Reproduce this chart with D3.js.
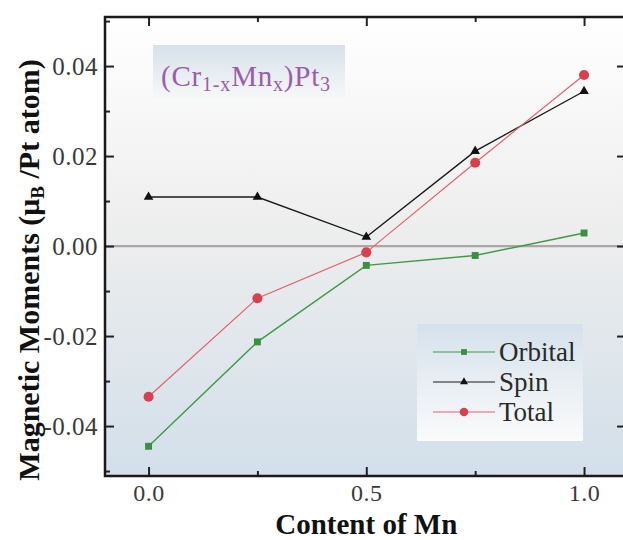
<!DOCTYPE html>
<html>
<head>
<meta charset="utf-8">
<script src="https://cdn.jsdelivr.net/npm/d3@7"></script>
</head>
<body style="margin:0">
<script>
// data
const content = [0.0, 0.25, 0.5, 0.75, 1.0]
const orbital = [-0.0445, -0.0213, -0.0043, -0.0021, 0.0029]
const spin = [0.0109, 0.0109, 0.0020, 0.0211, 0.0344]
const total = [-0.0335, -0.0116, -0.0014, 0.0185, 0.0380]
const seriesNames = ["Orbital", "Spin", "Total"]
const xMajor = [0.0, 0.5, 1.0]
const xMinor = [0.25, 0.75]
const yMajor = [-0.04, -0.02, 0.00, 0.02, 0.04]
const yMinor = [-0.05, -0.03, -0.01, 0.01, 0.03, 0.05]

const W = 623, H = 540
const plot = {left: 105, top: 17, right: 627, bottom: 476}
const FONT = "Liberation Serif"

const svg = d3.select("body")
  .append("svg")
  .attr("width", W)
  .attr("height", H)

// scales
const x = d3.scaleLinear().domain([-0.1, 1.1]).range([plot.left, plot.right + 0.6])
const y = d3.scaleLinear().domain([-0.0511, 0.0509]).range([plot.bottom, plot.top])

const defs = svg.append("defs")
function grad(id, stops) {
  const g = defs.append("linearGradient").attr("id", id)
    .attr("x1", 0).attr("y1", 0).attr("x2", 0).attr("y2", 1)
  stops.forEach(s => g.append("stop").attr("offset", s[0]).attr("stop-color", s[1]))
}
grad("bg", [[0, "#ffffff"], [0.45, "#eeeeee"], [1, "#d2dfea"]])
grad("titlebg", [[0, "#d6e1eb"], [1, "#f9f9f9"]])
grad("legbg", [[0, "#d5e1ec"], [1, "#fbfbfb"]])

// plot background
svg.append("rect")
  .attr("x", plot.left).attr("y", plot.top)
  .attr("width", plot.right - plot.left)
  .attr("height", plot.bottom - plot.top)
  .attr("fill", "url(#bg)")

// zero line
svg.append("line")
  .attr("x1", plot.left).attr("x2", plot.right)
  .attr("y1", y(0)).attr("y2", y(0))
  .attr("stroke", "#aea6a6")
  .attr("stroke-width", 2.2)

// title box
svg.append("rect")
  .attr("x", 153).attr("y", 45)
  .attr("width", 192).attr("height", 57)
  .attr("fill", "url(#titlebg)")

const title = svg.append("text")
  .attr("x", 161).attr("y", 86)
  .attr("fill", "#9a5ea6")
  .attr("font-size", 29)
  .attr("letter-spacing", 0.8)
title.append("tspan").text("(Cr")
title.append("tspan").attr("dy", 5).attr("font-size", 20).text("1-x")
title.append("tspan").attr("dy", -5).text("Mn")
title.append("tspan").attr("dy", 5).attr("font-size", 20).text("x")
title.append("tspan").attr("dy", -5).text(")Pt")
title.append("tspan").attr("dy", 5).attr("font-size", 20).text("3")

// axes
function styleAxis(g, size) {
  g.attr("font-family", FONT)
  g.select(".domain").remove()
  g.selectAll(".tick line").attr("stroke", "#222").attr("stroke-width", 2)
  g.selectAll(".tick text")
    .attr("fill", "#3a3a3a")
    .attr("font-size", size || 25)
    .attr("letter-spacing", 0.5)
}

svg.append("g")
  .attr("transform", `translate(${plot.left},0)`)
  .call(d3.axisLeft(y).tickValues(yMajor).tickSize(-9).tickPadding(7)
    .tickFormat(d => d3.format(".2f")(d).replace("−", "-")))
  .call(styleAxis)
svg.append("g")
  .attr("transform", `translate(${plot.left},0)`)
  .call(d3.axisLeft(y).tickValues(yMinor).tickSize(-5).tickFormat(""))
  .call(styleAxis)
svg.append("g")
  .attr("transform", `translate(${plot.right},0)`)
  .call(d3.axisRight(y).tickValues(yMajor).tickSize(-10).tickFormat(""))
  .call(styleAxis)

svg.append("g")
  .attr("transform", `translate(0,${plot.bottom})`)
  .call(d3.axisBottom(x).tickValues(xMajor).tickSize(-9).tickPadding(8)
    .tickFormat(d3.format(".1f")))
  .call(styleAxis, 24)
svg.append("g")
  .attr("transform", `translate(0,${plot.bottom})`)
  .call(d3.axisBottom(x).tickValues(xMinor).tickSize(-5).tickFormat(""))
  .call(styleAxis)
svg.append("g")
  .attr("transform", `translate(0,${plot.top})`)
  .call(d3.axisTop(x).tickValues(xMajor).tickSize(-9).tickFormat(""))
  .call(styleAxis)
svg.append("g")
  .attr("transform", `translate(0,${plot.top})`)
  .call(d3.axisTop(x).tickValues(xMinor).tickSize(-5).tickFormat(""))
  .call(styleAxis)

// frame
svg.append("rect")
  .attr("x", plot.left).attr("y", plot.top)
  .attr("width", plot.right - plot.left)
  .attr("height", plot.bottom - plot.top)
  .attr("fill", "none")
  .attr("stroke", "#1a1a1a")
  .attr("stroke-width", 2.5)

// series
const series = [
  {name: "Orbital", values: orbital, color: "#3f9a45", marker: "#3a8f42", sym: d3.symbolSquare, size: 48, width: 1.4},
  {name: "Spin", values: spin, color: "#1a1a1a", marker: "#111", sym: d3.symbolTriangle, size: 40, width: 1.4},
  {name: "Total", values: total, color: "#e4606c", marker: "#d8404f", sym: d3.symbolCircle, size: 80, width: 1.2}
]

const line = d3.line()
  .x(d => x(d[0]))
  .y(d => y(d[1]))

series.forEach(function(s) {
  const pts = content.map((c, i) => [c, s.values[i]])
  svg.append("path")
    .datum(pts)
    .attr("fill", "none")
    .attr("stroke", s.color)
    .attr("stroke-width", s.width)
    .attr("d", line)
  svg.selectAll(".pt-" + s.name)
    .data(pts)
    .join("path")
      .attr("transform", d => `translate(${x(d[0])},${y(d[1])})`)
      .attr("d", d3.symbol().type(s.sym).size(s.size))
      .attr("fill", s.marker)
})

// legend
svg.append("rect")
  .attr("x", 417).attr("y", 324)
  .attr("width", 166).attr("height", 117)
  .attr("fill", "url(#legbg)")

series.forEach(function(s, i) {
  const ly = 352 + i * 30
  svg.append("line")
    .attr("x1", 433).attr("x2", 495)
    .attr("y1", ly).attr("y2", ly)
    .attr("stroke", s.color)
    .attr("stroke-width", 1)
  svg.append("path")
    .attr("transform", `translate(464,${ly})`)
    .attr("d", d3.symbol().type(s.sym).size(s.size * 0.7))
    .attr("fill", s.marker)
  svg.append("text")
    .attr("x", 499).attr("y", ly + 9)
    .attr("fill", "#2a2a2a")
    .attr("font-size", 27)
    .text(seriesNames[i])
})

// axis titles
svg.append("text")
  .attr("x", (x(0) + x(1)) / 2).attr("y", 534)
  .attr("text-anchor", "middle")
  .attr("fill", "#111")
  .attr("font-size", 29)
  .attr("font-weight", "bold")
  .text("Content of Mn")

const ylab = svg.append("text")
  .attr("transform", "translate(39,270) rotate(-90)")
  .attr("text-anchor", "middle")
  .attr("fill", "#111")
  .attr("font-size", 30)
  .attr("font-weight", "bold")
ylab.append("tspan").text("Magnetic Moments  (μ")
ylab.append("tspan").attr("dy", 5).attr("font-size", 19).text("B")
ylab.append("tspan").attr("dy", -5).text(" /Pt atom)")

svg.selectAll("text")
  .attr("font-family", FONT)
  .style("font-family", FONT)
</script>
</body>
</html>
